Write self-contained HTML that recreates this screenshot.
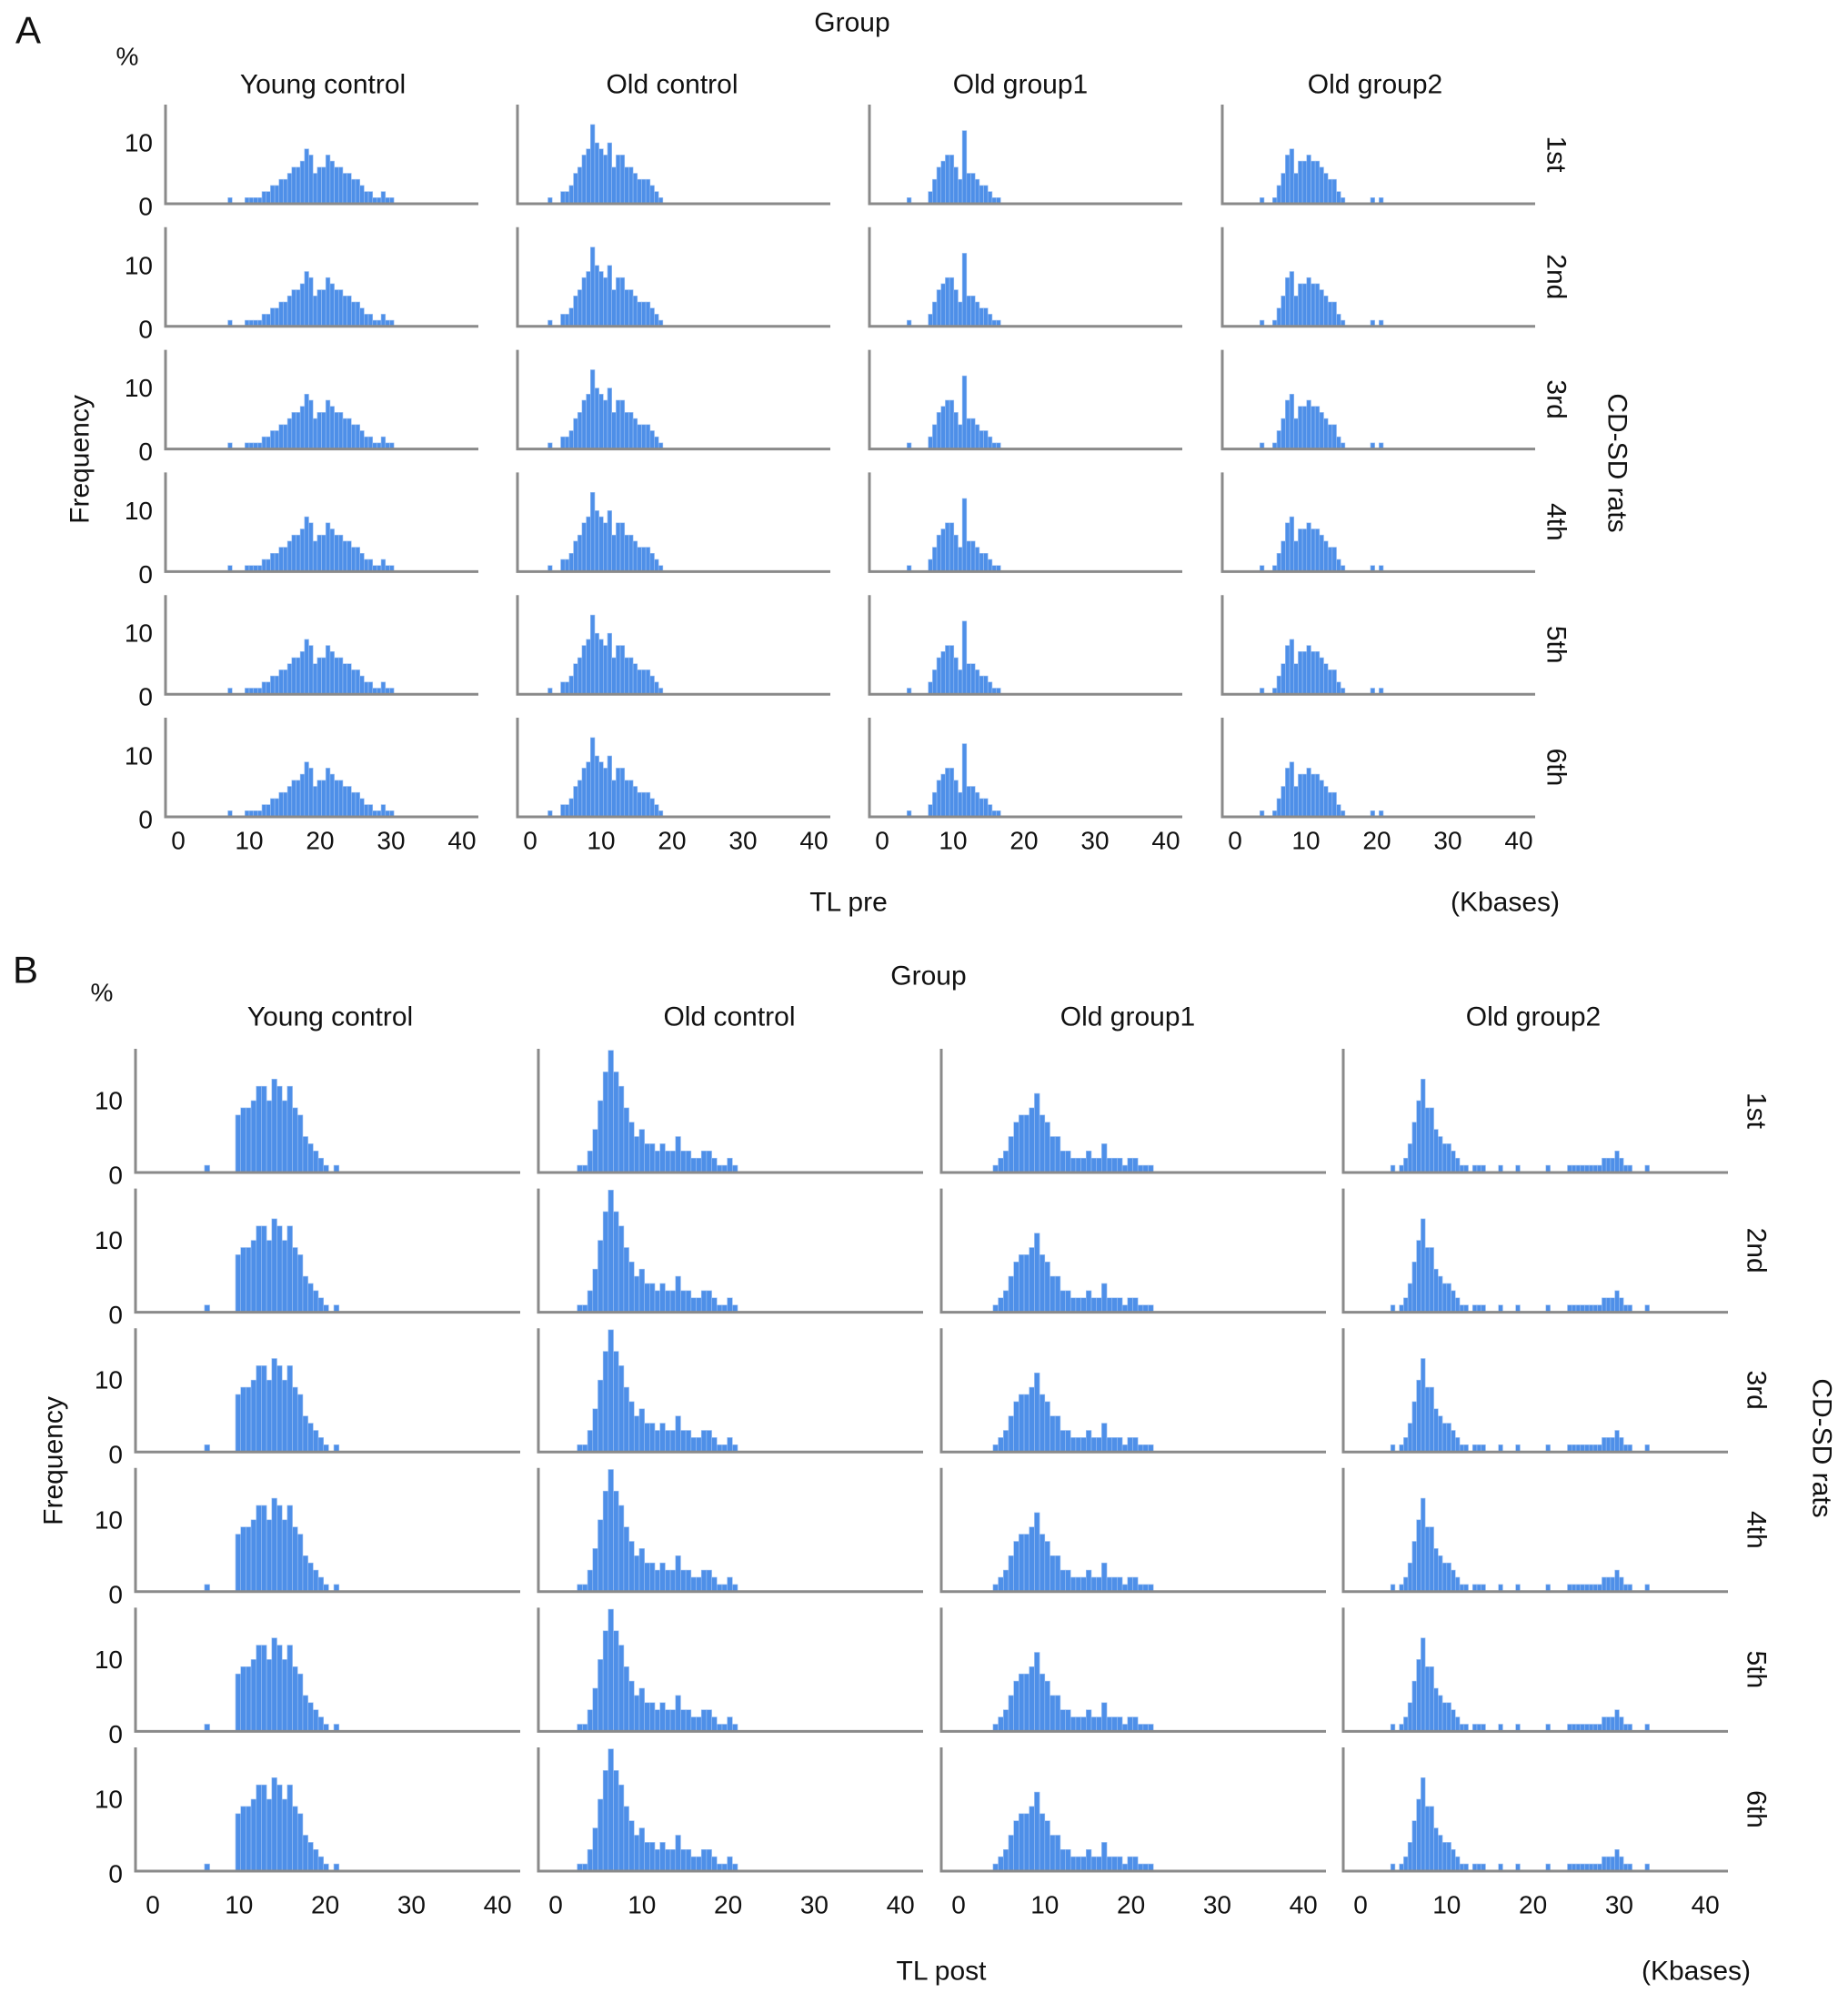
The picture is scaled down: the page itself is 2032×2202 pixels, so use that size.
<!DOCTYPE html>
<html><head><meta charset="utf-8"><style>
html,body{margin:0;padding:0;background:#fff;}
svg{display:block;font-family:"Liberation Sans",sans-serif;}
</style></head><body>
<svg id="fig" width="2032" height="2202" viewBox="0 0 2032 2202" xmlns="http://www.w3.org/2000/svg"></svg>
<script>
// ---- data (values in %) ----
const xTicks = [0, 10, 20, 30, 40];
const groups = ["Young control", "Old control", "Old group1", "Old group2"];
const rowsLabels = ["1st", "2nd", "3rd", "4th", "5th", "6th"];
const preStarts = [7, 2.5, 3.5, 3.5];
const preBinWidths = [0.6, 0.6, 0.6, 0.6];
const preYoung = [1,0,0,0,1,1,1,1,2,2,3,3,4,4,5,6,6,7,9,8,5,6,6,8,7,6,6,5,5,4,4,3,2,2,1,1,2,1,1,0];
const preOldCtrl = [1,0,0,2,2,3,5,6,8,9,13,10,9,8,10,6,8,8,6,6,5,4,4,4,3,2,1];
const preOldG1 = [1,0,0,0,0,2,4,6,7,8,8,6,4,12,5,5,4,3,3,2,1,1];
const preOldG2 = [1,0,0,1,3,5,8,9,5,7,7,8,7,7,6,5,4,4,2,1,0,0,0,0,0,0,1,0,1];
const postStarts = [6, 2.5, 4, 3.5];
const postBinWidths = [0.6, 0.6, 0.6, 0.5];
const postYoung = [1,0,0,0,0,0,8,9,9,10,12,12,10,13,12,10,12,9,8,5,4,3,2,1,0,1];
const postOldCtrl = [1,1,3,6,10,14,17,14,12,9,7,5,6,4,4,3,4,3,3,5,3,3,2,2,3,3,2,1,1,2,1];
const postOldG1 = [1,2,3,5,7,8,8,9,11,8,7,5,5,3,3,2,2,2,3,2,2,4,2,2,2,1,2,2,1,1,1];
const postOldG2 = [1,0,1,2,4,7,10,13,9,9,6,5,4,4,3,2,1,1,0,1,1,1,0,0,0,1,0,0,0,1,0,0,0,0,0,0,1,0,0,0,0,1,1,1,1,1,1,1,1,2,2,2,3,2,1,1,0,0,0,1];
const preSeries = [preYoung, preOldCtrl, preOldG1, preOldG2];
const postSeries = [postYoung, postOldCtrl, postOldG1, postOldG2];

const NS = "http://www.w3.org/2000/svg";
const svg = document.getElementById("fig");
function mk(tag, attrs, parent) {
  const e = document.createElementNS(NS, tag);
  for (const k in attrs) e.setAttribute(k, attrs[k]);
  (parent || svg).appendChild(e);
  return e;
}
function txt(s, x, y, size, name, extra) {
  const t = mk("text", Object.assign({x: x, y: y, "font-size": size, fill: "#111", "text-anchor": "middle", "dominant-baseline": "central"}, extra || {}));
  t.textContent = s;
  
  
  return t;
}

function section(cfg) {
  txt(cfg.letter, cfg.letterX, cfg.letterY, 42, "panel-label-" + cfg.letter.toLowerCase());
  txt("Group", cfg.groupX, cfg.groupY, 30, "group-title");
  txt("%", cfg.pctX, cfg.pctY, 28, "y-unit-label");
  txt("Frequency", cfg.freqX, cfg.freqY, 30, "y-axis-title", {transform: "rotate(-90 " + cfg.freqX + " " + cfg.freqY + ")"});
  txt("CD-SD rats", cfg.cdX, cfg.cdY, 30, "row-facet-title", {transform: "rotate(90 " + cfg.cdX + " " + cfg.cdY + ")"});
  txt(cfg.xTitle, cfg.xTitleX, cfg.xTitleY, 30, "x-axis-title");
  txt("(Kbases)", cfg.kbX, cfg.kbY, 30, "x-unit-label");
  groups.forEach((g, c) => {
    txt(g, cfg.titleX[c], cfg.titleY, 30, "column-title-" + c);
  });
  rowsLabels.forEach((r, ri) => {
    const base = cfg.base0 + ri * cfg.rowStep;
    const cy = base - cfg.axisH / 2;
    txt(r, cfg.rowLabX, cy, 30, "row-label-" + r, {transform: "rotate(90 " + cfg.rowLabX + " " + cy + ")"});
    groups.forEach((g, c) => {
      const left = cfg.left[c];
      const xs = v => left + cfg.x0off + v * cfg.pxPerKb;
      const ys = v => base - v * cfg.pxPerPct;
      const gEl = mk("g", {});
      
      
      const vals = cfg.series[c];
      const bw = cfg.binWidths[c];
      vals.forEach((v, i) => {
        if (v <= 0) return;
        const k0 = cfg.starts[c] + i * bw;
        const b = mk("rect", {x: xs(k0), y: ys(v), width: xs(k0 + bw) - xs(k0), height: base - ys(v), fill: "#4e8fe8", stroke: "#9cc0f2", "stroke-width": 0.6}, gEl);
        
        
      });
      const ax = mk("path", {d: "M" + left + " " + (base - cfg.axisH) + " V" + base + " H" + (left + cfg.width), fill: "none", stroke: "#8a8a8a", "stroke-width": 3}, gEl);
      
      
      if (c === 0) {
        txt("10", left - 14, ys(10), 28, "y-tick-label", {"text-anchor": "end"});
        txt("0", left - 14, base + 3, 28, "y-tick-label", {"text-anchor": "end"});
      }
      if (ri === rowsLabels.length - 1) {
        xTicks.forEach(t => txt(String(t), xs(t), cfg.tickY, 28, "x-tick-label"));
      }
    });
  });
}

section({letter: "A", letterX: 31, letterY: 33, groupX: 937, groupY: 25, pctX: 140, pctY: 62,
  freqX: 88, freqY: 505, cdX: 1778, cdY: 509, xTitle: "TL pre", xTitleX: 933, xTitleY: 992, kbX: 1655, kbY: 992,
  titleX: [355, 739, 1122, 1512], titleY: 93, rowLabX: 1711,
  left: [182, 569, 956, 1344], width: 344, x0off: 14, pxPerKb: 7.8,
  base0: 224, rowStep: 134.8, axisH: 109, pxPerPct: 6.7, tickY: 924,
  series: preSeries, starts: preStarts, binWidths: preBinWidths});

section({letter: "B", letterX: 28, letterY: 1066, groupX: 1021, groupY: 1073, pctX: 112, pctY: 1091,
  freqX: 59, freqY: 1606, cdX: 2003, cdY: 1592, xTitle: "TL post", xTitleX: 1035, xTitleY: 2167, kbX: 1865, kbY: 2167,
  titleX: [363, 802, 1240, 1686], titleY: 1118, rowLabX: 1931,
  left: [149, 592, 1035, 1477], width: 423, x0off: 19, pxPerKb: 9.48,
  base0: 1289, rowStep: 153.6, axisH: 136, pxPerPct: 7.9, tickY: 2094,
  series: postSeries, starts: postStarts, binWidths: postBinWidths});
</script>
</body></html>
